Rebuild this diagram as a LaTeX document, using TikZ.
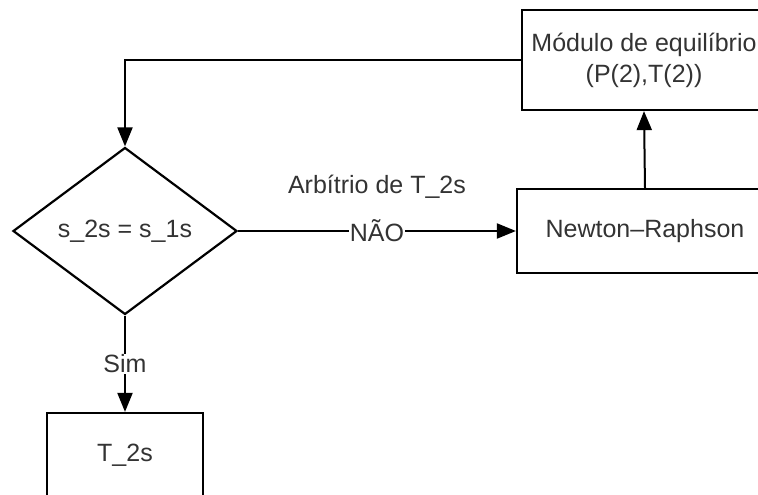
\documentclass[tikz,border=0pt]{standalone}
\usepackage{fontspec}
\setmainfont{Liberation Sans}
\usetikzlibrary{arrows.meta,positioning,shapes.geometric}
\tikzset{
  box/.style={draw,line width=2.2pt,minimum width=#1,minimum height=84pt,inner sep=0pt,align=center},
  decis/.style={draw,diamond,line width=2.2pt,minimum width=224pt,minimum height=167pt,inner sep=0pt},
  arr/.style={-{Triangle[length=19pt,width=15pt]},line width=2pt},
  lbl/.style={fill=white,inner sep=1pt},
}
\begin{document}
\begin{tikzpicture}[x=1pt,y=-1pt,every node/.style={font=\fontsize{25}{31}\selectfont,text=black!80}]
 \path[use as bounding box] (0,0) rectangle (758,495); \clip (0,0) rectangle (758,495);
 \node[box=244pt,minimum height=100pt] (eq) at (644,60){Módulo de equilíbrio\\(P(2),T(2))};
 \node[box=256pt] (nr) at (645,231){Newton--Raphson};
 \node[decis] (ss) at (125,231){s\_2s = s\_1s};
 \node[box=156pt] (t2) at (125,455){T\_2s};
 \node (arb) at (377,187){Arbítrio de T\_2s};
 \draw[arr](ss.east)--node[lbl]{NÃO}(nr.west);
 \draw[arr](nr.north)--(eq.south);
 \draw[arr](eq.west)-|(ss.north);
 \draw[arr](ss.south)--node[lbl]{Sim}(t2.north);
\end{tikzpicture}
\end{document}
